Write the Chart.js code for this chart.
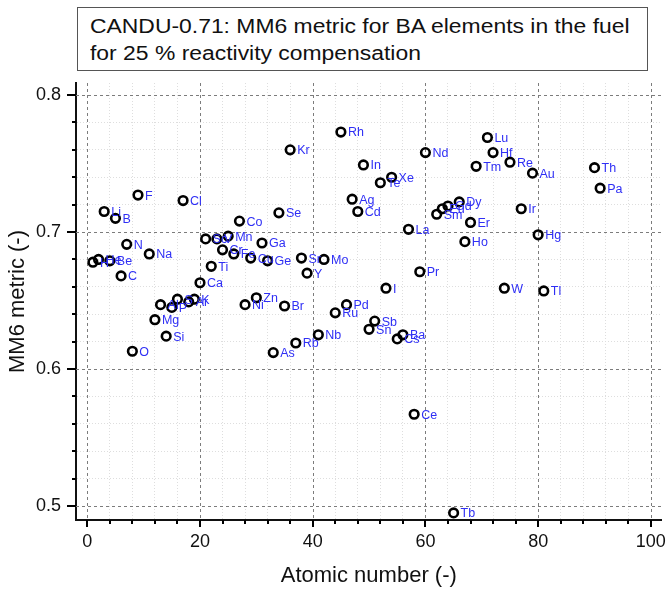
<!DOCTYPE html>
<html>
<head>
<meta charset="utf-8">
<script src="https://cdn.jsdelivr.net/npm/chart.js@4.4.0/dist/chart.umd.min.js"></script>
<style>
  html, body { margin: 0; padding: 0; background: #fff; }
  #wrap { position: relative; width: 670px; height: 592px; }
  #mm6 { position: absolute; left: 0; top: 0; }
  #title {
    position: absolute; left: 77px; top: 7px; width: 571px; height: 64px;
    box-sizing: border-box; border: 1px solid #555; background: #fff; z-index: 2;
    font-family: "Liberation Sans", Arial, sans-serif; font-size: 20px; line-height: 27px;
    color: #111; padding: 5px 0 0 12px; white-space: nowrap;
  }
  #title span { display: inline-block; transform: scaleX(1.145); transform-origin: 0 50%; }
</style>
</head>
<body>
<div id="wrap">
  <canvas id="mm6" width="670" height="592"></canvas>
  <div id="title"><span>CANDU-0.71: MM6 metric for BA elements in the fuel</span><br><span>for 25 % reactivity compensation</span></div>
</div>
<script>
// MM6 metric per burnable-absorber element
const elements = ['H', 'He', 'Li', 'Be', 'B', 'C', 'N', 'O', 'F', 'Na', 'Mg', 'Al', 'Si', 'P', 'S', 'Cl', 'Ar', 'K', 'Ca',
  'Sc', 'Ti', 'V', 'Cr', 'Mn', 'Fe', 'Co', 'Ni', 'Cu', 'Zn', 'Ga', 'Ge', 'As', 'Se', 'Br', 'Kr', 'Rb', 'Sr', 'Y', 'Nb', 'Mo',
  'Ru', 'Rh', 'Pd', 'Ag', 'Cd', 'In', 'Sn', 'Sb', 'Te', 'I', 'Xe', 'Cs', 'Ba', 'La', 'Ce', 'Pr', 'Nd', 'Sm', 'Eu', 'Gd',
  'Tb', 'Dy', 'Ho', 'Er', 'Tm', 'Lu', 'Hf', 'W', 'Re', 'Ir', 'Au', 'Hg', 'Tl', 'Th', 'Pa'];
const atomicNumbers = [1, 2, 3, 4, 5, 6, 7, 8, 9, 11, 12, 13, 14, 15, 16, 17, 18, 19, 20,
  21, 22, 23, 24, 25, 26, 27, 28, 29, 30, 31, 32, 33, 34, 35, 36, 37, 38, 39, 41, 42,
  44, 45, 46, 47, 48, 49, 50, 51, 52, 53, 54, 55, 56, 57, 58, 59, 60, 62, 63, 64,
  65, 66, 67, 68, 69, 71, 72, 74, 75, 77, 79, 80, 81, 90, 91];
const mm6Values = [0.678, 0.680, 0.715, 0.679, 0.710, 0.668, 0.691, 0.613, 0.727, 0.684, 0.636, 0.647, 0.624, 0.645, 0.651, 0.723, 0.649, 0.651, 0.663,
  0.695, 0.675, 0.695, 0.687, 0.697, 0.684, 0.708, 0.647, 0.681, 0.652, 0.692, 0.679, 0.612, 0.714, 0.646, 0.760, 0.619, 0.681, 0.670, 0.625, 0.680,
  0.641, 0.773, 0.647, 0.724, 0.715, 0.749, 0.629, 0.635, 0.736, 0.659, 0.740, 0.622, 0.625, 0.702, 0.567, 0.671, 0.758, 0.713, 0.717, 0.719,
  0.495, 0.722, 0.693, 0.707, 0.748, 0.769, 0.758, 0.659, 0.751, 0.717, 0.743, 0.698, 0.657, 0.747, 0.732];

const xTicks = [0, 4, 8, 12, 16, 20, 24, 28, 32, 36, 40, 44, 48, 52, 56, 60, 64, 68, 72, 76, 80, 84, 88, 92, 96, 100];
const xTickLabels = ['0', '20', '40', '60', '80', '100'];
const yTicks = [0.5, 0.52, 0.54, 0.56, 0.58, 0.6, 0.62, 0.64, 0.66, 0.68, 0.7, 0.72, 0.74, 0.76, 0.78, 0.8];
const yTickLabels = ['0.5', '0.6', '0.7', '0.8'];

const FONT = '"Liberation Sans", Arial, sans-serif';
const isMajorX = v => xTickLabels.includes(String(v));
const isMajorY = v => yTickLabels.includes(v.toFixed(1)) && Math.abs(v - Number(v.toFixed(1))) < 1e-9;

// dashed major grid + tick marks of two lengths
const gridAndTicks = {
  id: 'gridAndTicks',
  beforeDatasetsDraw(chart) {
    const {ctx, chartArea: a, scales: {x, y}} = chart;
    ctx.save();
    ctx.strokeStyle = '#7c7c7c';
    ctx.lineWidth = 1;
    ctx.setLineDash([3, 3]);
    xTicks.filter(isMajorX).forEach(v => {
      const px = Math.round(x.getPixelForValue(v)) + 0.5;
      ctx.beginPath(); ctx.moveTo(px, a.top); ctx.lineTo(px, a.bottom); ctx.stroke();
    });
    yTicks.filter(isMajorY).forEach(v => {
      const py = Math.round(y.getPixelForValue(v)) + 0.5;
      ctx.beginPath(); ctx.moveTo(a.left, py); ctx.lineTo(a.right, py); ctx.stroke();
    });
    ctx.setLineDash([]);
    ctx.strokeStyle = '#000';
    ctx.lineWidth = 2;
    xTicks.forEach(v => {
      const px = Math.round(x.getPixelForValue(v));
      const len = isMajorX(v) ? 7 : 4;
      ctx.beginPath(); ctx.moveTo(px, a.bottom); ctx.lineTo(px, a.bottom + len); ctx.stroke();
    });
    yTicks.forEach(v => {
      const py = Math.round(y.getPixelForValue(v));
      const len = isMajorY(v) ? 9 : 4;
      ctx.beginPath(); ctx.moveTo(a.left, py); ctx.lineTo(a.left - len, py); ctx.stroke();
    });
    ctx.restore();
  }
};

const pointLabels = {
  id: 'pointLabels',
  afterDatasetsDraw(chart) {
    const {ctx} = chart;
    const meta = chart.getDatasetMeta(0);
    ctx.save();
    ctx.font = '12.5px ' + FONT;
    ctx.fillStyle = '#2f2ff5';
    ctx.textBaseline = 'middle';
    meta.data.forEach((pt, i) => ctx.fillText(elements[i], pt.x + 7, pt.y + 1));
    ctx.restore();
  }
};

new Chart(document.getElementById('mm6'), {
  type: 'scatter',
  data: {
    datasets: [{
      label: 'MM6',
      data: atomicNumbers.map((z, i) => ({x: z, y: mm6Values[i]})),
      pointStyle: 'circle',
      pointRadius: 4.3,
      pointBorderWidth: 2.6,
      borderColor: '#000',
      backgroundColor: 'rgba(0,0,0,0)'
    }]
  },
  options: {
    responsive: false,
    animation: false,
    layout: {padding: {top: 83, right: 5, left: 0, bottom: 0}},
    plugins: {legend: {display: false}, tooltip: {enabled: false}, title: {display: false}},
    scales: {
      x: {
        type: 'linear', min: -2, max: 101.9,
        afterBuildTicks: s => { s.ticks = xTicks.map(v => ({value: v})); },
        afterFit: s => { s.height = 72; },
        ticks: {
          autoSkip: false, maxRotation: 0, padding: 4, color: '#111',
          font: {family: FONT, size: 18},
          callback: v => isMajorX(v) ? String(v) : ''
        },
        grid: {
          color: c => (c.tick && isMajorX(c.tick.value)) ? 'rgba(0,0,0,0)' : '#dedede',
          lineWidth: 1, tickLength: 7, tickColor: 'rgba(0,0,0,0)'
        },
        border: {color: '#111', width: 2, dash: [1, 2]},
        title: {display: true, text: 'Atomic number (-)', color: '#111', font: {family: FONT, size: 22}, padding: {top: 0, bottom: 3}}
      },
      y: {
        type: 'linear', min: 0.4898, max: 0.8088,
        afterBuildTicks: s => { s.ticks = yTicks.map(v => ({value: v})); },
        afterFit: s => { s.width = 76; },
        ticks: {
          autoSkip: false, padding: 6, color: '#111',
          font: {family: FONT, size: 18},
          callback: v => isMajorY(v) ? v.toFixed(1) : ''
        },
        grid: {
          color: c => (c.tick && isMajorY(c.tick.value)) ? 'rgba(0,0,0,0)' : '#dedede',
          lineWidth: 1, tickLength: 9, tickColor: 'rgba(0,0,0,0)'
        },
        border: {color: '#111', width: 2, dash: [1, 2]},
        title: {display: true, text: 'MM6 metric (-)', color: '#111', font: {family: FONT, size: 22}, padding: {top: 5, bottom: 0}}
      }
    }
  },
  plugins: [gridAndTicks, pointLabels]
});
</script>
</body>
</html>
